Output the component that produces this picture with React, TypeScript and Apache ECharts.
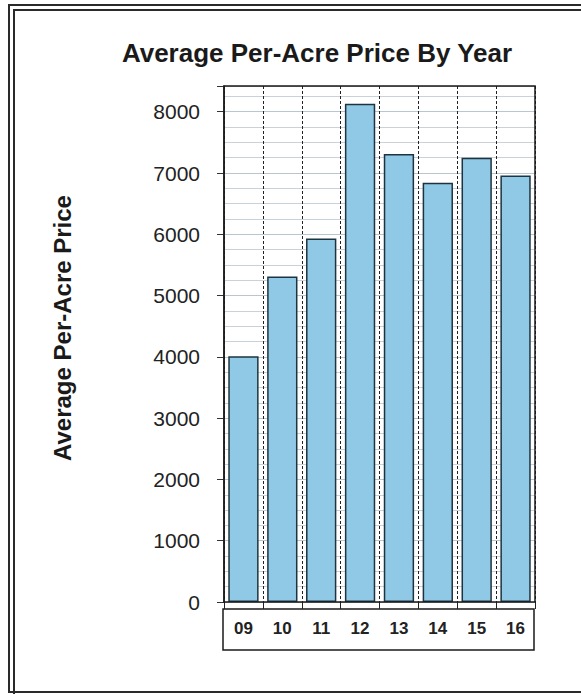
import React, { useEffect, useRef } from "react";
import * as echarts from "echarts";

const categories = ["09", "10", "11", "12", "13", "14", "15", "16"];
const prices = [4010, 5310, 5930, 8130, 7310, 6840, 7250, 6960];
const yTicks = [0, 1000, 2000, 3000, 4000, 5000, 6000, 7000, 8000];

export default function App() {
  const ref = useRef<HTMLDivElement>(null);
  useEffect(() => {
    document.body.style.margin = "0";
    const chart = echarts.init(ref.current!, null, { renderer: "svg" });
    const font = "Liberation Sans, Arial, sans-serif";
    chart.setOption({
      animation: false,
      backgroundColor: "#ffffff",
      title: {
        text: "Average Per-Acre Price By Year",
        left: 312,
        top: 35,
        textAlign: "center",
        textStyle: { fontFamily: font, fontSize: 26, fontWeight: "bold", color: "#1a1a1a" },
      },
      grid: { left: 224, top: 86, width: 311, height: 516, containLabel: false },
      xAxis: {
        type: "category",
        data: categories,
        axisLine: { show: false },
        axisTick: { show: true, length: 7, lineStyle: { color: "#222", width: 1 } },
        axisLabel: { margin: 18, fontFamily: font, fontSize: 17, fontWeight: "bold", color: "#222" },
        splitLine: { show: true, interval: 0, lineStyle: { color: "#222", type: [3, 2], width: 1 } },
      },
      yAxis: {
        type: "value",
        min: 0,
        max: 8420,
        interval: 1000,
        name: "Average Per-Acre Price",
        nameLocation: "middle",
        nameGap: 150,
        nameTextStyle: {
          fontFamily: font,
          fontSize: 24,
          fontWeight: "bold",
          color: "#1a1a1a",
          padding: [0, 0, 0, 32],
        },
        axisLine: { show: true, lineStyle: { color: "#222", width: 1.5 } },
        axisTick: { show: true, length: 7, lineStyle: { color: "#333" } },
        axisLabel: {
          margin: 24,
          fontFamily: font,
          fontSize: 21,
          color: "#222",
          formatter: (v: number) => (yTicks.includes(v) ? String(v) : ""),
        },
        splitLine: { show: true, lineStyle: { color: "#b8c6d0", width: 1 } },
        minorTick: { show: false, splitNumber: 4 },
        minorSplitLine: { show: true, lineStyle: { color: "#c8d2d8", width: 1 } },
      },
      series: [
        {
          type: "bar",
          data: prices,
          barCategoryGap: "22%",
          itemStyle: { color: "#90c9e5", borderColor: "#1d3440", borderWidth: 1.5 },
        },
      ],
      graphic: [
        { type: "rect", shape: { x: 9, y: 5, width: 620, height: 687 }, style: { fill: "none", stroke: "#2a2a2a", lineWidth: 2 }, silent: true },
        { type: "rect", shape: { x: 14, y: 10, width: 620, height: 720 }, style: { fill: "none", stroke: "#2a2a2a", lineWidth: 2 }, silent: true },
        { type: "rect", shape: { x: 224, y: 86, width: 311, height: 516 }, style: { fill: "none", stroke: "#1a1a1a", lineWidth: 1.5 }, silent: true, z: 10 },
        { type: "rect", shape: { x: 223, y: 609, width: 311, height: 41 }, style: { fill: "none", stroke: "#1a1a1a", lineWidth: 1.5 }, silent: true },
      ],
    });
    return () => chart.dispose();
  }, []);
  return <div ref={ref} style={{ width: 581, height: 694 }} />;
}
